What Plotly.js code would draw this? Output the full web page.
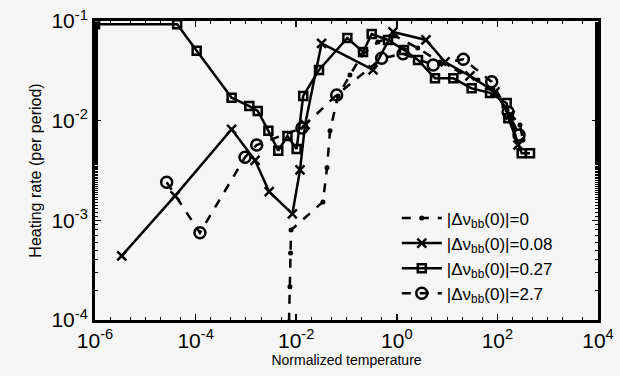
<!DOCTYPE html>
<html><head><meta charset="utf-8">
<script src="https://cdn.plot.ly/plotly-3.0.1.min.js"></script>
<style>html,body{margin:0;padding:0;background:#f6f6f6}#chart{width:620px;height:376px}</style>
</head><body><div id="chart"></div>
<script>
// |Δν_bb(0)| = 0
const x0 = [7.2e-3, 7.5e-3, 7.7e-3, 7.9e-3, 0.034, 0.041, 0.047, 0.068, 0.117, 0.203, 0.42, 0.92, 2.6, 7.2, 18, 41, 98, 155, 281, 323];
const y0 = [9.6e-5, 2.15e-4, 4.7e-4, 8.0e-4, 1.53e-3, 3.36e-3, 7.9e-3, 0.0177, 0.0287, 0.0456, 0.0616, 0.0708, 0.0536, 0.0388, 0.0308, 0.0256, 0.0181, 0.0128, 9.06e-3, 6.4e-3];
// |Δν_bb(0)| = 0.08
const x1 = [3.4e-6, 3.9e-5, 5.2e-4, 1.52e-3, 2.9e-3, 8.4e-3, 0.0119, 0.015, 0.032, 0.337, 0.84, 3.8, 9.1, 28.5, 89.5, 178, 257];
const y1 = [4.4e-4, 1.76e-3, 8.2e-3, 4.0e-3, 1.94e-3, 1.16e-3, 3.2e-3, 9.1e-3, 0.0597, 0.0323, 0.0776, 0.0645, 0.0388, 0.0281, 0.0194, 0.0114, 5.7e-3];
// |Δν_bb(0)| = 0.27
const x2 = [1e-6, 4.3e-5, 1.05e-4, 5.2e-4, 1.17e-3, 1.72e-3, 2.8e-3, 4.4e-3, 6.7e-3, 0.0102, 0.0138, 0.0284, 0.104, 0.213, 0.317, 0.668, 1.39, 2.64, 5.74, 13.3, 30.8, 71.3, 153, 165, 304, 445];
const y2 = [0.093, 0.093, 0.0504, 0.017, 0.0140, 0.0125, 7.9e-3, 5.0e-3, 7.0e-3, 5.2e-3, 0.0177, 0.0323, 0.0675, 0.0489, 0.0741, 0.0645, 0.0512, 0.0406, 0.0266, 0.0266, 0.0211, 0.019, 0.015, 0.0106, 4.7e-3, 4.7e-3];
// |Δν_bb(0)| = 2.7
const x3 = [2.66e-5, 1.22e-4, 9.6e-4, 1.64e-3, 0.013, 0.0638, 0.50, 1.33, 5.3, 21, 77, 163, 269];
const y3 = [2.41e-3, 7.5e-4, 4.3e-3, 5.7e-3, 8.45e-3, 0.0181, 0.0422, 0.047, 0.0362, 0.0413, 0.0246, 0.0122, 7.2e-3];
const names = ['|Δν<sub>bb</sub>(0)|=0', '|Δν<sub>bb</sub>(0)|=0.08', '|Δν<sub>bb</sub>(0)|=0.27', '|Δν<sub>bb</sub>(0)|=2.7'];
// tick labels
const xTickVals = [1e-6, 1e-4, 1e-2, 1, 1e2, 1e4];
const xTickText = ['10<sup>-6</sup>', '10<sup>-4</sup>', '10<sup>-2</sup>', '10<sup>0</sup>', '10<sup>2</sup>', '10<sup>4</sup>'];
const yTickVals = [1e-4, 1e-3, 1e-2, 1e-1];
const yTickText = ['10<sup>-4</sup>', '10<sup>-3</sup>', '10<sup>-2</sup>', '10<sup>-1</sup>'];

const traces = [
  {x: x0, y: y0, name: names[0], mode: 'lines+markers', line: {color: '#000', width: 2.5, dash: 'dash'}, marker: {symbol: 'circle', size: 5, color: '#000'}},
  {x: x1, y: y1, name: names[1], mode: 'lines+markers', line: {color: '#000', width: 2.5}, marker: {symbol: 'x-thin-open', size: 9, color: '#000', line: {width: 2.5, color: '#000'}}},
  {x: x2, y: y2, name: names[2], mode: 'lines+markers', line: {color: '#000', width: 2.5}, marker: {symbol: 'square-open', size: 8, color: '#000', line: {width: 2.5, color: '#000'}}},
  {x: x3, y: y3, name: names[3], mode: 'lines+markers', line: {color: '#000', width: 2.5, dash: 'dash'}, marker: {symbol: 'circle-open', size: 11, color: '#000', line: {width: 2.5, color: '#000'}}}
];
const axisCommon = {
  type: 'log', showgrid: false, zeroline: false, showline: true, linecolor: '#000', linewidth: 3,
  mirror: 'ticks', ticks: 'inside', ticklen: 6, tickwidth: 1.5, tickcolor: '#000',
  tickfont: {family: 'Liberation Sans, Arial, sans-serif', size: 21, color: '#000'},
  minor: {ticks: 'inside', ticklen: 3, tickwidth: 1, tickcolor: '#000', showgrid: false}
};
const layout = {
  width: 620, height: 376,
  margin: {l: 95, r: 22, t: 21, b: 56},
  paper_bgcolor: '#f6f6f6', plot_bgcolor: '#f6f6f6',
  font: {family: 'Liberation Sans, Arial, sans-serif', color: '#000'},
  showlegend: true,
  legend: {x: 0.6, y: 0.4, xanchor: 'left', yanchor: 'top', bgcolor: 'rgba(0,0,0,0)', font: {size: 17, color: '#000'}, tracegroupgap: 0, itemwidth: 40},
  xaxis: Object.assign({}, axisCommon, {range: [-6, 4], tickvals: xTickVals, ticktext: xTickText, title: {text: 'Normalized temperature', font: {size: 14, color: '#000'}, standoff: 4}}),
  yaxis: Object.assign({}, axisCommon, {range: [-4, -1], tickvals: yTickVals, ticktext: yTickText, title: {text: 'Heating rate (per period)', font: {size: 16, color: '#000'}, standoff: 6}})
};
Plotly.newPlot('chart', traces, layout, {displayModeBar: false, staticPlot: true});
</script></body></html>
